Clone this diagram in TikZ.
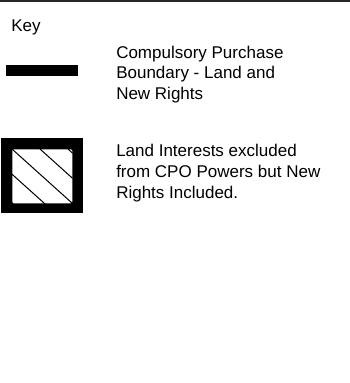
\documentclass[tikz,border=0pt]{standalone}
\usepackage{fontspec}
\setmainfont{Liberation Sans}
\begin{document}
\begin{tikzpicture}[x = 0.75pt, y = -0.75pt,
    keytext/.style = {anchor = base west, inner sep = 0pt, align = left, font = \fontsize{12.75pt}{15.4pt}\selectfont},
    keyfill/.style = {fill = black, inner sep = 0pt, anchor = north west}]
    \useasboundingbox (0,0) rectangle (350,383);
    \draw[black!85, line width = 1.5pt] (0,1) -- (350,1);
    \node (key) [keytext] at (11,31) {Key};
    \node (cpbar) [keyfill, minimum width = 54pt, minimum height = 8.25pt] at (6,65) {};
    \node (cptext) [keytext] at (116,99.5) {Compulsory Purchase\\Boundary - Land and\\New Rights};
    \node (exclbox) [keyfill, minimum width = 61.5pt, minimum height = 56.25pt] at (1,138) {};
    \node (hatch) [fill = white, rounded corners = 1pt, inner sep = 0pt, anchor = north west, minimum width = 45pt, minimum height = 40.5pt] at (12,149) {};
    \begin{scope}
        \clip (hatch.north west) rectangle (hatch.south east);
        \foreach \x in {-16, 12, 40, 68}
            \draw[line width = 0.75pt] (\x,149) -- ++(66,59.4);
    \end{scope}
    \node (excltext) [keytext] at (116,198) {Land Interests excluded\\from CPO Powers but New\\Rights Included.};
\end{tikzpicture}
\end{document}
